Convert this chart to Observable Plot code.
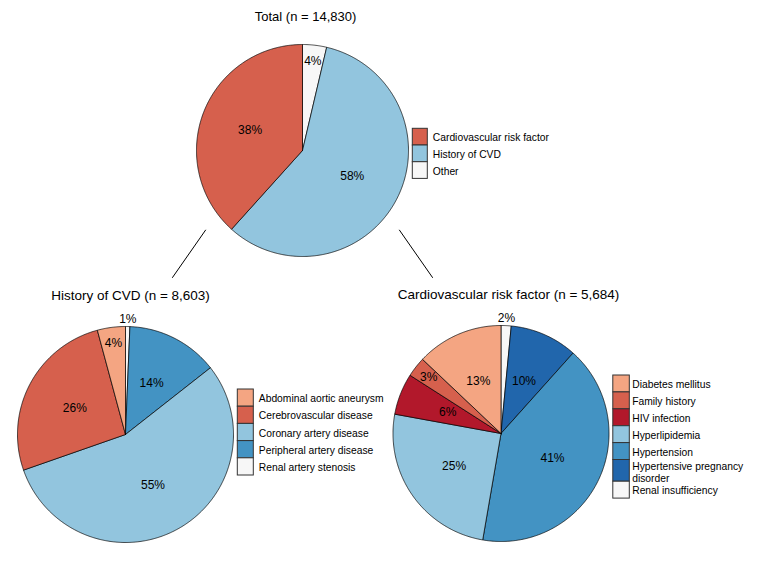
<!DOCTYPE html>
<html>
<head>
<meta charset="utf-8">
<script src="https://cdn.jsdelivr.net/npm/d3@7"></script>
<script src="https://cdn.jsdelivr.net/npm/@observablehq/plot@0.6"></script>
<style>
  html, body { margin: 0; padding: 0; background: #ffffff; }
  #chart svg { display: block; }
</style>
</head>
<body>
<div id="chart"></div>
<script>
// ---------------- DATA ----------------
const totalTitle = "Total (n = 14,830)";
const totalCategories = ["Cardiovascular risk factor", "History of CVD", "Other"];
const totalCounts = [5684, 8603, 543];
const totalColors = ["#D6604D", "#92C5DE", "#F7F7F7"];

const cvdTitle = "History of CVD (n = 8,603)";
const cvdCategories = ["Abdominal aortic aneurysm", "Cerebrovascular disease", "Coronary artery disease", "Peripheral artery disease", "Renal artery stenosis"];
const cvdCounts = [361, 2250, 4753, 1183, 56];
const cvdColors = ["#F4A582", "#D6604D", "#92C5DE", "#4393C3", "#F7F7F7"];

const riskTitle = "Cardiovascular risk factor (n = 5,684)";
const riskCategories = ["Diabetes mellitus", "Family history", "HIV infection", "Hyperlipidemia", "Hypertension", "Hypertensive pregnancy\ndisorder", "Renal insufficiency"];
const riskCounts = [736, 170, 352, 1430, 2335, 575, 86];
const riskColors = ["#F4A582", "#D6604D", "#B2182B", "#92C5DE", "#4393C3", "#2166AC", "#F7F7F7"];

// ---------------- LAYOUT ----------------
const W = 762, H = 571;
const FONT = "Liberation Sans, Arial, Helvetica, sans-serif";
const panels = [
  {title: totalTitle, cats: totalCategories, counts: totalCounts, colors: totalColors,
   cx: 302, cy: 150, r: 106, tx: 305, ty: 16, tsize: 13,
   lx: 412.3, ly: 128.3, kw: 15, kh: 16.7, ltx: 432.3},
  {title: cvdTitle, cats: cvdCategories, counts: cvdCounts, colors: cvdColors,
   cx: 125, cy: 434, r: 108, tx: 130, ty: 295, tsize: 13.5,
   lx: 237.3, ly: 389, kw: 16, kh: 17.2, ltx: 258.3},
  {title: riskTitle, cats: riskCategories, counts: riskCounts, colors: riskColors,
   cx: 500.5, cy: 433, r: 108, tx: 508, ty: 294, tsize: 13.5,
   lx: 612.8, ly: 375, kw: 16.5, kh: 16.9, ltx: 631.7}
];

const marks = [];
const sliceLabels = [];
const legendKeys = [];
const legendTexts = [];
const titles = [];

for (const p of panels) {
  const total = d3.sum(p.counts);
  // slices run clockwise from 12 o'clock, in reverse category order
  let acc = 0;
  for (let i = p.cats.length - 1; i >= 0; i--) {
    const share = p.counts[i] / total;
    const a0 = acc * 2 * Math.PI;
    const a1 = (acc + share) * 2 * Math.PI;
    acc += share;
    const pts = [{x: p.cx, y: p.cy}];
    const n = Math.max(2, Math.ceil((a1 - a0) / (Math.PI / 360)));
    for (let k = 0; k <= n; k++) {
      const t = a0 + (a1 - a0) * k / n;
      pts.push({x: p.cx + p.r * Math.sin(t), y: p.cy - p.r * Math.cos(t)});
    }
    pts.push({x: p.cx, y: p.cy});
    marks.push(Plot.line(pts, {x: "x", y: "y", fill: p.colors[i], stroke: "#000", strokeWidth: 0.7, strokeLinejoin: "round"}));
    const am = (a0 + a1) / 2;
    const lr = share < 0.025 ? 1.07 : share < 0.05 ? 0.85 : 0.53;
    sliceLabels.push({x: p.cx + lr * p.r * Math.sin(am), y: p.cy - lr * p.r * Math.cos(am), text: Math.round(share * 100) + "%"});
  }
  // legend
  let y = p.ly;
  p.cats.forEach((c, i) => {
    const lines = c.split("\n").length;
    const h = p.kh + (lines - 1) * 4.8;
    legendKeys.push({x1: p.lx, x2: p.lx + p.kw, y1: y, y2: y + h, fill: p.colors[i]});
    legendTexts.push({x: p.ltx, y: y + h / 2 + (lines > 1 ? 1 : 0), text: c});
    y += h;
  });
  titles.push({x: p.tx, y: p.ty, text: p.title, size: p.tsize});
}

// connector lines from the top pie to the two lower pies
const topPanel = panels[0];
const connectors = [-1, 1].map(s => {
  const ang = s * (Math.PI - 0.884);
  const x1 = topPanel.cx + 1.18 * topPanel.r * Math.sin(ang);
  const y1 = topPanel.cy - 1.18 * topPanel.r * Math.cos(ang);
  return {x1, y1, x2: x1 + s * 33.5, y2: y1 + 48};
});

marks.push(Plot.link(connectors, {x1: "x1", y1: "y1", x2: "x2", y2: "y2", stroke: "#000", strokeWidth: 1}));
marks.push(Plot.text(sliceLabels, {x: "x", y: "y", text: "text", fontSize: 12, fill: "#000"}));
marks.push(Plot.rect(legendKeys, {x1: "x1", x2: "x2", y1: "y1", y2: "y2", fill: d => d.fill, stroke: "#333", strokeWidth: 1}));
marks.push(Plot.text(legendTexts, {x: "x", y: "y", text: "text", textAnchor: "start", fontSize: 10.3, lineHeight: 1.22, fill: "#000"}));
for (const t of titles) {
  marks.push(Plot.text([t], {x: "x", y: "y", text: "text", fontSize: t.size, fill: "#000"}));
}

const chart = Plot.plot({
  width: W,
  height: H,
  margin: 0,
  style: {fontFamily: FONT, background: "#ffffff"},
  x: {domain: [0, W], range: [0, W], axis: null},
  y: {domain: [0, H], range: [0, H], axis: null},
  marks
});
document.getElementById("chart").appendChild(chart);
</script>
</body>
</html>
